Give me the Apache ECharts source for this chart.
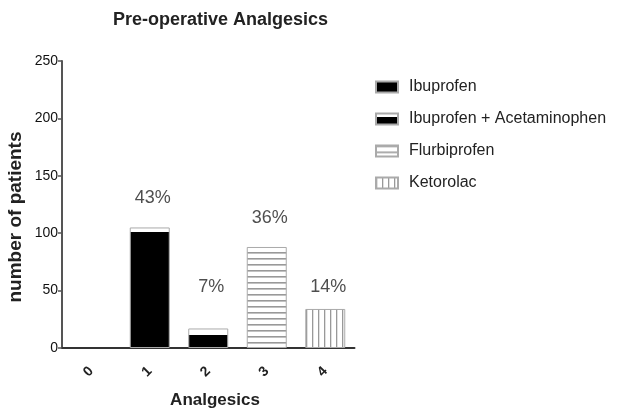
<!DOCTYPE html>
<html>
<head>
<meta charset="utf-8">
<script src="https://cdn.jsdelivr.net/npm/echarts@6/dist/echarts.min.js"></script>
<style>html,body{margin:0;padding:0;background:#fff}#c{width:619px;height:420px}</style>
</head>
<body>
<div id="c"></div>
<script>
const categories = ['0', '1', '2', '3', '4'];
const seriesNames = ['Ibuprofen', 'Ibuprofen + Acetaminophen', 'Flurbiprofen', 'Ketorolac'];
const seriesCategoryIndex = [1, 2, 3, 4];
const values = [0, 105, 17, 88, 34];
const percentLabels = ['43%', '7%', '36%', '14%'];
const percentLabelY = [131, 53, 113, 53];
const yTicks = [0, 50, 100, 150, 200, 250];

function stripes(horizontal) {
  const c = document.createElement('canvas');
  c.width = 6;
  c.height = 6;
  const g = c.getContext('2d');
  g.fillStyle = '#fff';
  g.fillRect(0, 0, 6, 6);
  g.fillStyle = '#999';
  if (horizontal) g.fillRect(0, 0, 6, 1.6);
  else g.fillRect(0, 0, 1.3, 6);
  return { image: c, repeat: 'repeat' };
}
function blackTop(frac) {
  return new echarts.graphic.LinearGradient(0, 0, 0, 1, [
    { offset: 0, color: '#fff' }, { offset: frac, color: '#fff' },
    { offset: frac, color: '#000' }, { offset: 1, color: '#000' }
  ]);
}
const fills = [blackTop(0.035), blackTop(0.35), stripes(true), stripes(false)];

const FONT = 'Liberation Sans, Arial, sans-serif';
const chart = echarts.init(document.getElementById('c'), null, { renderer: 'canvas' });

const series = seriesNames.map((name, k) => ({
  name: name,
  type: 'bar',
  barWidth: 40,
  barGap: '-100%',
  data: categories.map((c, i) => (i === seriesCategoryIndex[k] ? values[i] : null)),
  itemStyle: { color: fills[k], borderColor: '#aaa', borderWidth: 1 },
  emphasis: { disabled: true },
  animation: false
}));
series.push({
  type: 'scatter',
  symbolSize: 0,
  silent: true,
  data: seriesCategoryIndex.map((ci, k) => [ci, percentLabelY[k]]),
  label: {
    show: true, position: 'inside', offset: [3, 0],
    formatter: p => percentLabels[p.dataIndex],
    fontFamily: FONT, fontSize: 18, color: '#222'
  },
  animation: false
});

chart.setOption({
  animation: false,
  title: {
    text: 'Pre-operative Analgesics', left: 108, top: 6,
    textStyle: { fontFamily: FONT, fontSize: 18, fontWeight: 'bold', color: '#222' }
  },
  legend: {
    data: seriesNames.map(n => ({ name: n, icon: 'rect' })), orient: 'vertical', left: 370, top: 74,
    itemWidth: 22, itemHeight: 11, itemGap: 16,
    textStyle: { fontFamily: FONT, fontSize: 16, color: '#222', padding: [0, 0, 0, 6] },
    selectedMode: false
  },
  grid: { left: 62, right: 264.5, top: 61, bottom: 72 },
  xAxis: {
    type: 'category', data: categories, boundaryGap: true,
    axisLine: { lineStyle: { color: '#333', width: 2 } },
    axisTick: { alignWithLabel: true, length: 5, lineStyle: { color: '#333', width: 1.5 } },
    axisLabel: { rotate: 45, margin: 21, fontFamily: FONT, fontSize: 14, fontWeight: 'bold', color: '#222' }
  },
  yAxis: {
    type: 'value', min: yTicks[0], max: yTicks[yTicks.length - 1], interval: 50,
    splitLine: { show: false },
    axisLine: { show: true, lineStyle: { color: '#555', width: 2 } },
    axisTick: { show: true, length: 4, lineStyle: { color: '#555', width: 1.5 } },
    axisLabel: { margin: 4, fontFamily: FONT, fontSize: 14, color: '#111' }
  },
  graphic: [
    { type: 'text', x: 215, y: 400, style: { text: 'Analgesics', font: 'bold 17px ' + FONT, fill: '#222', textAlign: 'center', textVerticalAlign: 'middle' } },
    { type: 'text', x: 16, y: 217, rotation: Math.PI / 2, style: { text: 'number of patients', font: 'bold 19px ' + FONT, fill: '#222', textAlign: 'center', textVerticalAlign: 'middle' } }
  ],
  series: series
});
</script>
</body>
</html>
